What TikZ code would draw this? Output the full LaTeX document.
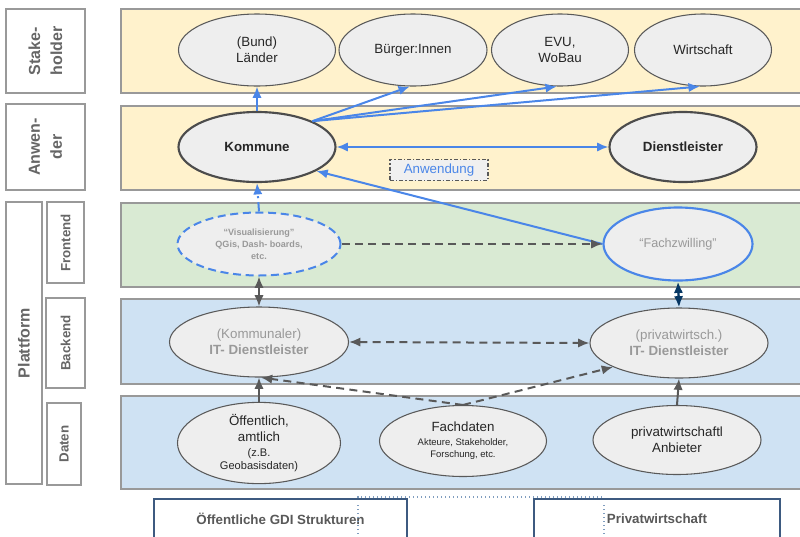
\documentclass[tikz,border=0pt]{standalone}
\usepackage{fontspec}
\setmainfont{Liberation Sans}
\usetikzlibrary{positioning, arrows.meta, shapes.geometric}
\definecolor{cgelb}{HTML}{FFF2CC}
\definecolor{cgruen}{HTML}{D9EAD3}
\definecolor{cblau}{HTML}{CFE2F3}
\definecolor{crand}{HTML}{999999}
\definecolor{cschrift}{HTML}{666666}
\definecolor{cknoten}{HTML}{EEEEEE}
\definecolor{clink}{HTML}{4A86E8}
\definecolor{cpfeil}{HTML}{595959}
\definecolor{cnavy}{HTML}{073763}
\definecolor{cbox}{HTML}{3D5A80}
\definecolor{cpunkt}{HTML}{7F9DBF}
\newcommand{\klein}{\fontsize{7.1}{8.5}\selectfont}
\newcommand{\mittel}{\fontsize{8.3}{9.5}\selectfont}

\begin{document}
\begin{tikzpicture}[x=0.75pt, y=-0.75pt,
    >={Latex[length=8.5pt, width=7pt]},
    band/.style={draw=crand, line width=1pt},
    seite/.style={draw=crand, line width=1.1pt, fill=white},
    seitext/.style={rotate=90, text=cschrift, align=center,
      font=\fontsize{12}{16.5}\selectfont\bfseries},
    unter/.style={rotate=90, text=cschrift, font=\fontsize{10}{12}\selectfont\bfseries},
    ell/.style={ellipse, draw=cpfeil, line width=0.8pt, fill=cknoten, inner sep=0pt,
      align=center, text=black!85, font=\fontsize{10}{12}\selectfont},
    dick/.style={ell, draw=black!70, line width=1.6pt, font=\fontsize{10}{12}\selectfont\bfseries},
    blass/.style={ell, text=crand},
    blau/.style={draw=clink, line width=1.5pt, ->},
    grau/.style={draw=cpfeil, line width=1.5pt, ->},
    strich/.style={grau, dash pattern=on 6pt off 4pt},
    fuss/.style={draw=cbox, line width=1pt, fill=white, minimum height=30pt,
      text=cpfeil, font=\fontsize{10}{12}\selectfont\bfseries}]

  \useasboundingbox (0,0) rectangle (800,536);

  % --- Ebenen ---
  \draw[band, fill=cgelb]  (121,9)   rectangle (802,93);
  \draw[band, fill=cgelb]  (121,106) rectangle (802,190);
  \draw[band, fill=cgruen] (121,203) rectangle (802,287);
  \draw[band, fill=cblau]  (121,299) rectangle (802,384);
  \draw[band, fill=cblau]  (121,396) rectangle (802,489);

  % --- linke Spalte ---
  \draw[seite] (6,9)    rectangle (85,93);
  \draw[seite] (6,104)  rectangle (85,190);
  \draw[seite] (6,202)  rectangle (42,484);
  \draw[seite] (47,202) rectangle (84,283);
  \draw[seite] (46,298) rectangle (85,388);
  \draw[seite] (47,403) rectangle (81,485);
  \node[seitext] (lstake) at (45.5,51)  {Stake-\\holder};
  \node[seitext] (lanw)   at (45.5,147) {Anwen-\\der};
  \node[seitext] (lplatt) at (24,343)   {Plattform};
  \node[unter]   (lfront) at (65.5,243) {Frontend};
  \node[unter]   (lback)  at (65.5,343) {Backend};
  \node[unter]   (ldaten) at (64,444)   {Daten};

  % --- Stakeholder ---
  \node[ell, minimum width=117.75pt, minimum height=54pt] (laender) at (257,50) {(Bund)\\Länder};
  \node[ell, minimum width=111pt, minimum height=54pt] (buerger) at (413,50) {Bürger:Innen};
  \node[ell, minimum width=102.75pt, minimum height=54pt] (evu) at (560,50) {EVU,\\WoBau};
  \node[ell, minimum width=102.75pt, minimum height=54pt] (wirtschaft) at (703,50) {Wirtschaft};

  % --- Anwender ---
  \node[dick, minimum width=117.75pt, minimum height=52.5pt] (kommune) at (257,147) {Kommune};
  \node[dick, minimum width=110.25pt, minimum height=52.5pt] (dienst) at (683,147) {Dienstleister};
  \node[draw=cpfeil, line width=0.8pt, dash pattern=on 3pt off 1.5pt on 1pt off 1.5pt,
    fill=black!6, minimum width=73.5pt, minimum height=15.75pt, inner sep=0pt,
    text=clink, font=\fontsize{10}{12}\selectfont] (anwendung) at (439,170) {Anwendung};

  % --- Frontend ---
  \node[blass, draw=clink, line width=1.5pt, dash pattern=on 6pt off 3.5pt,
    minimum width=122.25pt, minimum height=47.25pt,
    font=\fontsize{6.8}{9}\selectfont\bfseries] (visual) at (259,244)
    {“Visualisierung”\\QGis, Dash- boards,\\etc.};
  \node[blass, draw=clink, line width=1.6pt, minimum width=111.75pt, minimum height=54.75pt,
    font=\fontsize{9.5}{11.5}\selectfont] (zwilling) at (678,244) {“Fachzwilling”};

  % --- Backend ---
  \node[blass, minimum width=134.25pt, minimum height=52.5pt] (kitdl) at (259,342)
    {(Kommunaler)\\\textbf{IT- Dienstleister}};
  \node[blass, minimum width=133.5pt, minimum height=52.5pt] (pitdl) at (679,343)
    {(privatwirtsch.)\\\textbf{IT- Dienstleister}};

  % --- Daten ---
  \node[ell, minimum width=122.25pt, minimum height=52.5pt] (oeff) at (259,443)
    {Öffentlich,\\amtlich\\[-1pt]\mittel(z.B.\\[-2pt]\mittel Geobasisdaten)};
  \node[ell, minimum width=125.25pt, minimum height=53.25pt] (fachdaten) at (463,441)
    {Fachdaten\\[-1.5pt]\klein Akteure, Stakeholder,\\[-3pt]\klein Forschung, etc.};
  \node[ell, minimum width=126pt, minimum height=51.75pt] (anbieter) at (677,440)
    {privatwirtschaftl\\Anbieter};

  % --- Fuss ---
  \draw[cpunkt, line width=1pt, dotted] (358,538) -- (358,497) -- (604,497) -- (604,538);
  \node[fuss, minimum width=189.75pt] (oegdi) at (280.5,519) {Öffentliche GDI Strukturen};
  \node[fuss, minimum width=184.5pt] (privw) at (657,519) {Privatwirtschaft};
  \draw[cpunkt, line width=1pt, dotted] (358,505) -- (358,538);
  \draw[cpunkt, line width=1pt, dotted] (604,505) -- (604,538);

  % --- Verbindungen ---
  \draw[blau] (kommune.north) -- (laender.south);
  \draw[blau] (kommune.25) -- (buerger.265);
  \draw[blau] (kommune.25) -- (evu.265);
  \draw[blau] (kommune.25) -- (wirtschaft.265);
  \draw[blau, <->] (kommune.east) -- (dienst.west);
  \draw[blau] (zwilling.west) -- (kommune.-22);
  \draw[blau, dash pattern=on 7pt off 3pt on 1.5pt off 3pt] (visual.north) -- (kommune.south);
  \draw[grau, <->] (visual.south) -- (kitdl.north);
  \draw[strich] (visual.east) -- (zwilling.west);
  \draw[strich, <->] (kitdl.east) -- (pitdl.west);
  \draw[draw=cnavy, line width=1.8pt, <->] (zwilling.south) -- (pitdl.north);
  \draw[grau] (oeff.north) -- (kitdl.south);
  \draw[strich] (fachdaten.north) -- (kitdl.-87);
  \draw[strich] (fachdaten.north) -- (pitdl.200);
  \draw[grau] (anbieter.north) -- (pitdl.south);
\end{tikzpicture}
\end{document}
